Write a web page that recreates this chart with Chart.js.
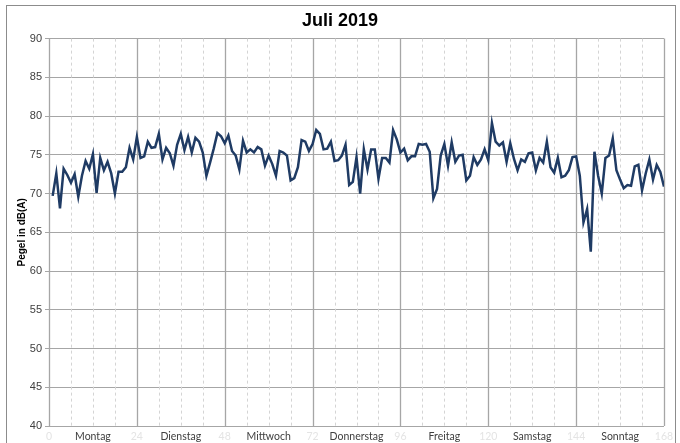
<!DOCTYPE html>
<html>
<head>
<meta charset="utf-8">
<script src="https://cdn.jsdelivr.net/npm/chart.js@4.4.0/dist/chart.umd.min.js"></script>
<style>
html,body{margin:0;padding:0;background:#fff;}
#wrap{position:relative;width:680px;height:443px;overflow:hidden;}
#frame{position:absolute;left:6px;top:5px;width:670px;height:460px;border:1px solid #8c8c8c;box-sizing:border-box;}
canvas{position:absolute;left:0;top:0;}
</style>
</head>
<body>
<div id="wrap"><div id="frame"></div><canvas id="c" width="680" height="443"></canvas></div>
<script>
const days = ["Montag","Dienstag","Mittwoch","Donnerstag","Freitag","Samstag","Sonntag"];
const boundaryTicks = [0,24,48,72,96,120,144,168];
const yTicks = [40,45,50,55,60,65,70,75,80,85,90];

const montag     = [69.7,72.6,68.1,73.2,72.4,71.4,72.5,69.6,72.3,74.2,73.2,75.1,70.1,74.6,73.0,74.1,72.6,70.0,72.8,72.8,73.4,75.9,74.4,77.3];
const dienstag   = [74.6,74.8,76.7,75.9,76.0,77.7,74.4,75.9,75.2,73.6,76.3,77.7,75.6,77.3,75.3,77.2,76.7,75.3,72.3,74.0,75.8,77.8,77.4,76.5];
const mittwoch   = [77.5,75.5,74.9,73.1,76.8,75.3,75.7,75.3,76.0,75.7,73.6,74.9,73.8,72.3,75.5,75.3,74.9,71.7,72.0,73.4,76.9,76.7,75.5,76.4];
const donnerstag = [78.2,77.7,75.7,75.8,76.7,74.2,74.3,74.9,76.3,71.1,71.5,74.7,70.0,75.7,73.1,75.7,75.7,71.9,74.6,74.6,74.0,78.2,77.0,75.3];
const freitag    = [75.8,74.3,74.8,74.8,76.4,76.3,76.4,75.4,69.4,70.6,74.9,76.4,73.6,76.6,74.1,74.9,75.0,71.7,72.3,74.7,73.7,74.4,75.7,74.3];
const samstag    = [79.1,76.7,76.2,76.6,74.1,76.5,74.5,73.0,74.4,74.1,75.2,75.3,73.0,74.6,74.0,76.7,73.4,72.7,74.6,72.1,72.3,73.0,74.7,74.8];
const sonntag    = [72.3,66.3,68.0,62.5,75.4,72.3,70.0,74.6,74.9,77.1,73.0,71.8,70.7,71.1,71.0,73.5,73.7,70.4,72.6,74.4,71.8,73.7,72.8,70.9];

const week = [montag,dienstag,mittwoch,donnerstag,freitag,samstag,sonntag];
const points = [];
week.forEach((dayVals,d)=>dayVals.forEach((v,h)=>points.push({x:d*24+h+1,y:v})));

const vGrid = {
  id:'vGrid',
  beforeDatasetsDraw(chart){
    const {ctx, chartArea:a, scales:{x}} = chart;
    ctx.save();
    for(let v=0; v<=168; v+=6){
      const px = Math.round(x.getPixelForValue(v))+0.5;
      ctx.beginPath();
      if(v%24===0){ctx.strokeStyle='#a6a6a6';ctx.setLineDash([]);ctx.lineWidth=1.3;}
      else {ctx.strokeStyle='#d4d4d4';ctx.setLineDash([3,3]);ctx.lineWidth=1;}
      ctx.moveTo(px,a.top);ctx.lineTo(px,a.bottom);ctx.stroke();
    }
    ctx.restore();
  }
};

new Chart(document.getElementById('c'),{
  type:'line',
  data:{datasets:[{data:points,borderColor:'#1f3b64',borderWidth:2.5,pointRadius:0,tension:0,fill:false}]},
  options:{
    responsive:false,animation:false,
    layout:{padding:0},
    plugins:{
      legend:{display:false},tooltip:{enabled:false},
      title:{display:true,text:'Juli 2019',color:'#000',font:{family:'Liberation Sans, Arial',size:18,weight:'bold'},padding:{top:10,bottom:7}}
    },
    scales:{
      x:{type:'linear',min:0,max:168,
        afterBuildTicks(s){const t=[];boundaryTicks.forEach((b,i)=>{t.push({value:b});if(i<days.length)t.push({value:b+12});});s.ticks=t;},
        afterFit(s){s.height=17;},
        grid:{display:false,drawTicks:false},
        border:{display:false},
        ticks:{autoSkip:false,maxRotation:0,padding:4,
          callback:(v)=> v%24===0 ? String(v) : days[Math.floor(v/24)],
          color:(c)=> c.tick && c.tick.value%24===0 ? '#e4e4e4' : '#404040',
          font:{family:'Lato, Open Sans, sans-serif',size:10.5}}
      },
      y:{min:40,max:90,
        afterBuildTicks(s){s.ticks=yTicks.map(v=>({value:v}));},
        afterFit(s){s.width=49;},
        grid:{color:'#a6a6a6',lineWidth:1,tickLength:4},
        border:{color:'#a6a6a6'},
        ticks:{padding:3,color:'#404040',font:{family:'Liberation Sans, Arial',size:11}},
        title:{display:true,text:'Pegel in dB(A)',color:'#000',font:{family:'Liberation Sans, Arial',size:10,weight:'bold'},padding:{top:16,bottom:0}}
      },
      yRight:{position:'right',min:40,max:90,
        afterFit(s){s.width=16;},
        grid:{display:false,drawTicks:false},
        border:{display:false},
        ticks:{display:false}
      }
    }
  },
  plugins:[vGrid]
});
</script>
</body>
</html>
